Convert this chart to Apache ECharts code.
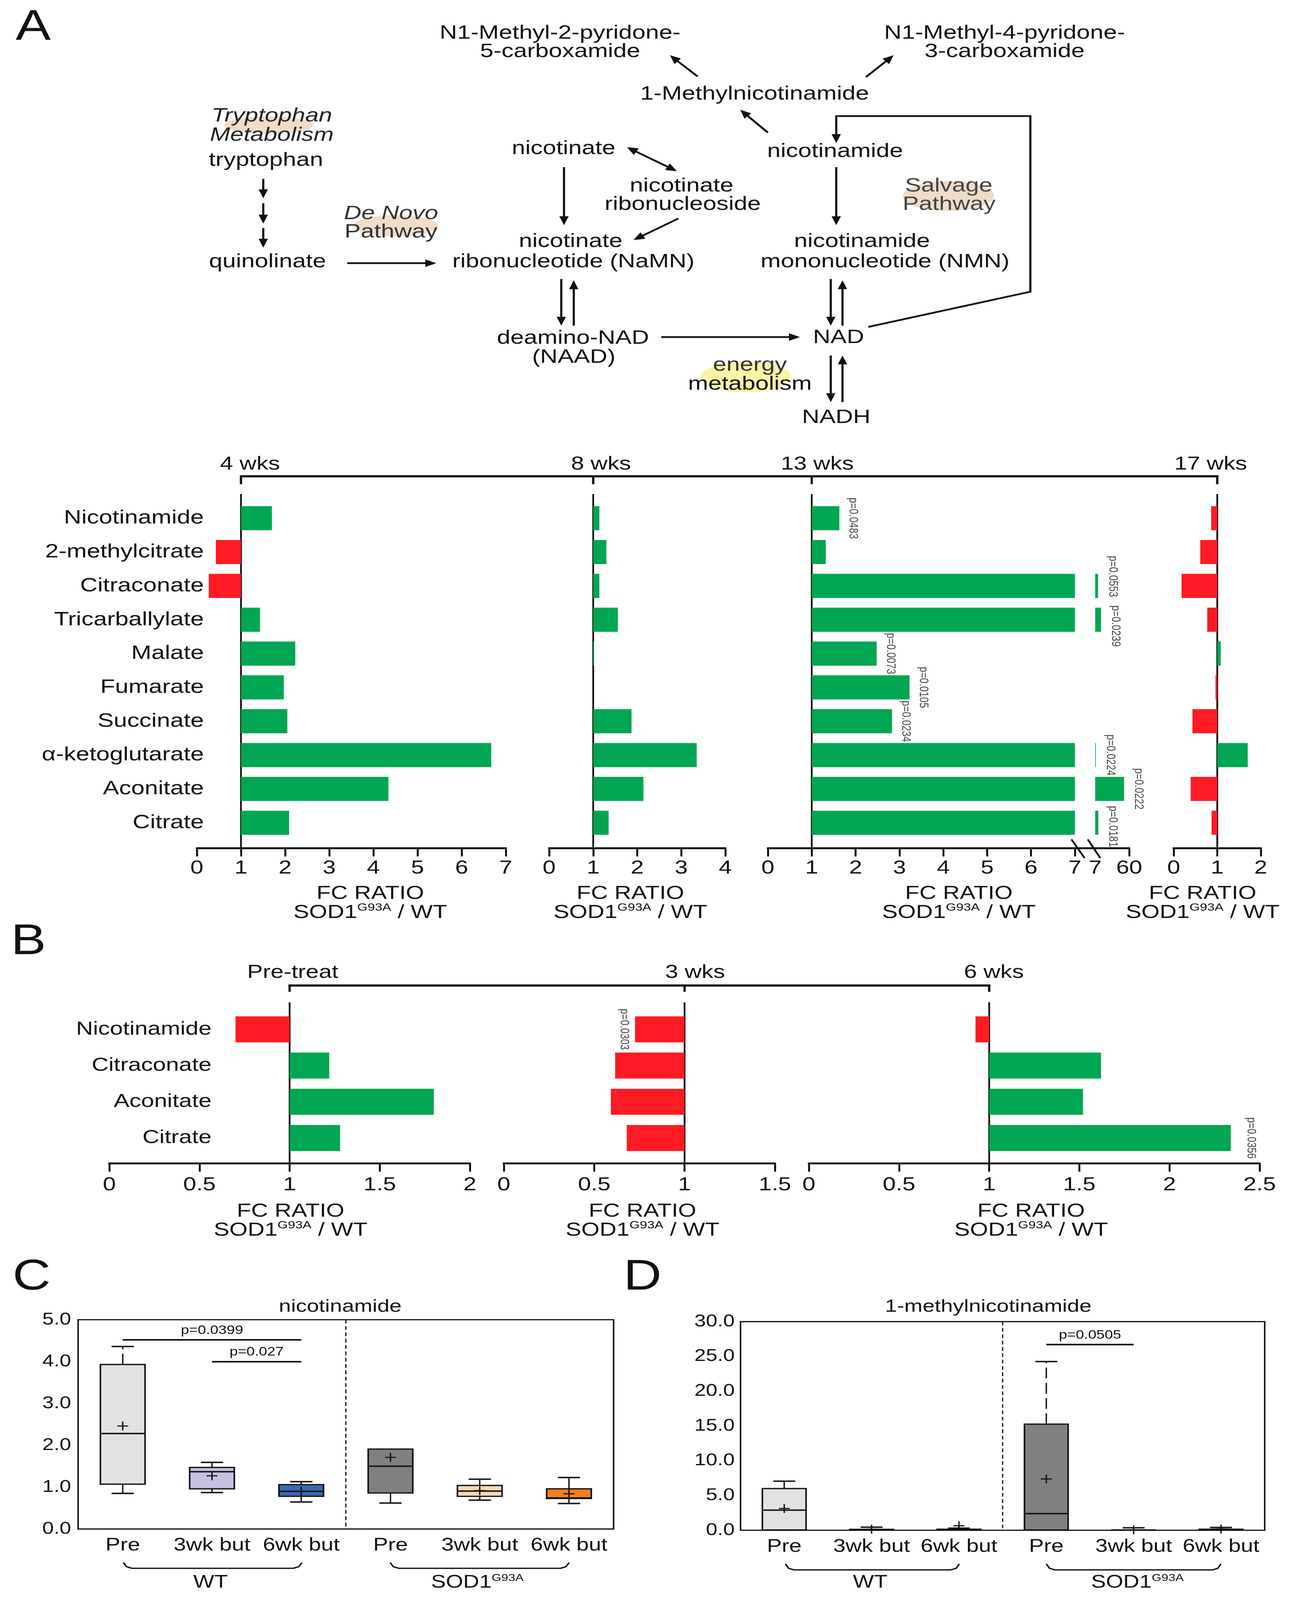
<!DOCTYPE html>
<html>
<head>
<meta charset="utf-8">
<script src="https://cdn.jsdelivr.net/npm/echarts@6/dist/echarts.min.js"></script>
<style>
html,body{margin:0;padding:0;background:#ffffff;overflow:hidden;}
#wrap{width:100vw;height:100vh;overflow:hidden;background:#ffffff;}
#c{width:3313px;height:5046px;transform-origin:0 0;}
</style>
</head>
<body>
<div id="wrap"><div id="c"></div></div>
<script>
// ================= DATA =================
const categoriesA = ['Nicotinamide','2-methylcitrate','Citraconate','Tricarballylate','Malate','Fumarate','Succinate','α-ketoglutarate','Aconitate','Citrate'];
const periodsA = ['4 wks','8 wks','13 wks','17 wks'];
const fc4wk  = [1.70, 0.43, 0.27, 1.43, 2.23, 1.97, 2.05, 6.67, 4.34, 2.09];
const fc8wk  = [1.14, 1.30, 1.14, 1.56, 1.02, 1.00, 1.87, 3.35, 2.14, 1.35];
const fc13wk = [1.63, 1.32, 11.5, 16.0, 2.48, 3.23, 2.83, 8.0, 52.0, 11.9];
const fc17wk = [0.86, 0.61, 0.18, 0.77, 1.08, 0.96, 0.43, 1.70, 0.39, 0.87];
const p13wk  = ['p=0.0483', null, 'p=0.0553', 'p=0.0239', 'p=0.0073', 'p=0.0105', 'p=0.0234', 'p=0.0224', 'p=0.0222', 'p=0.0181'];
const break13 = 7;

const categoriesB = ['Nicotinamide','Citraconate','Aconitate','Citrate'];
const periodsB = ['Pre-treat','3 wks','6 wks'];
const fcPre = [0.70, 1.22, 1.80, 1.28];
const fc3wk = [0.726, 0.616, 0.592, 0.68];
const fc6wk = [0.924, 1.62, 1.52, 2.34];
const p3wk  = ['p=0.0303', null, null, null];
const p6wk  = [null, null, null, 'p=0.0356'];

const groupsCD = ['Pre','3wk but','6wk but','Pre','3wk but','6wk but'];
const genotypes = ['WT','SOD1'];
const namMin  = [0.85, 0.87, 0.645, 0.62, 0.69, 0.61];
const namQ1   = [1.07, 0.96, 0.78, 0.86, 0.78, 0.73];
const namMed  = [2.28, 1.37, 0.90, 1.50, 0.905, 0.74];
const namQ3   = [3.93, 1.47, 1.06, 1.91, 1.04, 0.96];
const namMax  = [4.36, 1.59, 1.13, 1.91, 1.19, 1.23];
const namMean = [2.46, 1.27, 0.90, 1.71, 0.915, 0.84];
const namP    = [{from:0, to:2, y:4.52, text:'p=0.0399'}, {from:1.07, to:2, y:4.0, text:'p=0.027'}];

const mnaMin  = [0.02, 0.01, 0.01, 0.02, 0.01, 0.02];
const mnaQ1   = [0.05, 0.02, 0.03, 0.05, 0.02, 0.04];
const mnaMed  = [2.90, 0.05, 0.06, 2.39, 0.03, 0.08];
const mnaQ3   = [6.00, 0.12, 0.15, 15.26, 0.05, 0.15];
const mnaMax  = [7.05, 0.45, 0.30, 24.26, 0.35, 0.40];
const mnaMean = [3.13, 0.15, 0.64, 7.37, 0.05, 0.17];
const mnaP    = [{from:3, to:3.97, y:26.7, text:'p=0.0505'}];

// ================= STYLE =================
const GREEN = '#00a651', RED = '#fe1b23', INK = '#111111';
const FONT = '"Liberation Sans", Arial, Helvetica, sans-serif';
const boxColors = ['#e1e3e2', '#c5c1e0', '#3b69b3', '#7e817f', '#fbd8b4', '#f47f20'];
const dashedUpperC = [true, false, false, false, false, false];
const dashedUpperD = [false, false, false, true, false, false];
const pShift13 = [0, 0, -30, 20, 0, 0, 0, 0, 0, 12];
const fmt = v => String(Math.round(v * 100) / 100);

// fit the full 3313x5046 figure into the visible window
const host = document.getElementById('c');
const fitX = window.innerWidth / 3313, fitY = window.innerHeight / 5046;
if (fitX < 0.999 || fitY < 0.999) host.style.transform = 'scale(' + Math.min(fitX, 1) + ',' + Math.min(fitY, 1) + ')';

const chart = echarts.init(host, null, {renderer: 'canvas', width: 3313, height: 5046});

const rowA = {top: 1581, height: 1067, offset: 27};
const rowB = {top: 3189, height: 457, offset: 23};
const gridDefs = [
  {left: 504,  width: 791,  row: rowA},
  {left: 1406, width: 451,  row: rowA},
  {left: 1966, width: 786,  row: rowA},
  {left: 2804, width: 87,   row: rowA},
  {left: 3005, width: 223,  row: rowA},
  {left: 280,  width: 923,  row: rowB},
  {left: 1290, width: 694,  row: rowB},
  {left: 2071, width: 1154, row: rowB}
];
const axisDefs = [
  {min: -1, max: 6, interval: 1, shift: 1},
  {min: -1, max: 3, interval: 1, shift: 1},
  {min: -1, max: 6, interval: 1, shift: 1},
  {min: 0, max: 53, interval: 53, shift: break13},
  {min: -1, max: 1, interval: 1, shift: 1},
  {min: -1, max: 1, interval: 0.5, shift: 1},
  {min: -1, max: 0.5, interval: 0.5, shift: 1},
  {min: -1, max: 1.5, interval: 0.5, shift: 1}
];

const grids = [], xAxes = [], yAxes = [], series = [];

gridDefs.forEach((g, i) => {
  grids.push({left: g.left, width: g.width, top: g.row.top, height: g.row.height, containLabel: false, outerBoundsMode: 'none'});
  const a = axisDefs[i];
  const isA = i < 5;
  const xa = {
    gridIndex: i, type: 'value', min: a.min, max: a.max, interval: a.interval,
    offset: g.row.offset,
    axisLine: {show: true, onZero: false, lineStyle: {color: INK, width: 6}},
    axisTick: {show: true, inside: false, length: 26, lineStyle: {color: INK, width: 5}},
    axisLabel: {show: true, margin: isA ? 33 : 38, fontSize: 60, color: INK, fontFamily: FONT,
      formatter: v => fmt(v + a.shift)},
    splitLine: {show: false}
  };
  if (i === 3) {
    xa.axisTick.customValues = [53];
    xa.axisLabel.customValues = [0, 53];
  }
  xAxes.push(xa);
  const zeroOffset = -((0 - a.min) / (a.max - a.min)) * g.width;
  yAxes.push({
    gridIndex: i, type: 'category', inverse: true,
    data: isA ? categoriesA : categoriesB,
    offset: zeroOffset,
    axisLine: {show: false, onZero: false},
    axisTick: {show: false},
    axisLabel: {
      show: i === 0 || i === 5, interval: 0,
      margin: i === 0 ? 95 : 200,
      fontSize: isA ? 62 : 60, color: INK, fontFamily: FONT,
      padding: isA ? [0, 0, 30, 0] : 0
    },
    splitLine: {show: false}
  });
});

function barSeries(gi, values, width) {
  return {
    type: 'bar', xAxisIndex: gi, yAxisIndex: gi, data: values, barWidth: width,
    silent: true, animation: false,
    itemStyle: {color: p => (p.value >= 0 ? GREEN : RED)}
  };
}
function pSeries(gi, items, pos, dist) {
  return {
    type: 'scatter', xAxisIndex: gi, yAxisIndex: gi, data: items, symbolSize: 2,
    silent: true, animation: false, itemStyle: {color: 'rgba(0,0,0,0)'},
    label: {show: true, position: pos, distance: dist, rotate: -90, align: 'center', verticalAlign: 'middle',
      fontSize: 31, color: INK, fontFamily: FONT, formatter: p => p.value[2]}
  };
}

series.push(barSeries(0, fc4wk.map(v => v - 1), 76));
series.push(barSeries(1, fc8wk.map(v => v - 1), 76));
series.push(barSeries(2, fc13wk.map(v => Math.min(v, break13) - 1), 76));
series.push(barSeries(3, fc13wk.map(v => (v > break13 ? v - break13 : '-')), 76));
series.push(barSeries(4, fc17wk.map(v => v - 1), 76));
const p13low = [], p13high = [];
p13wk.forEach((p, i) => {
  if (!p) return;
  const high = fc13wk[i] > break13;
  // label offset is applied in the rotated frame: local x maps to screen y
  const item = {value: high ? [fc13wk[i] - break13, i, p] : [fc13wk[i] - 1, i, p],
    label: {offset: [pShift13[i], 0]}};
  (high ? p13high : p13low).push(item);
});
series.push(pSeries(2, p13low, 'right', 34));
series.push(pSeries(3, p13high, 'right', 36));

series.push(barSeries(5, fcPre.map(v => v - 1), 82));
series.push(barSeries(6, fc3wk.map(v => v - 1), 82));
series.push(barSeries(7, fc6wk.map(v => v - 1), 82));
series.push(pSeries(6, p3wk.map((p, i) => (p ? {value: [fc3wk[i] - 1, i, p]} : null)).filter(Boolean), 'left', 27));
series.push(pSeries(7, p6wk.map((p, i) => (p ? {value: [fc6wk[i] - 1, i, p]} : null)).filter(Boolean), 'right', 50));

grids.push({left: 200, width: 1371, top: 4162, height: 660, show: true, borderColor: '#1a1a1a', borderWidth: 4, backgroundColor: 'transparent', containLabel: false, outerBoundsMode: 'none'});
grids.push({left: 1896, width: 1342, top: 4168, height: 658, show: true, borderColor: '#1a1a1a', borderWidth: 4, backgroundColor: 'transparent', containLabel: false, outerBoundsMode: 'none'});
[8, 9].forEach((gi, k) => {
  xAxes.push({
    gridIndex: gi, type: 'category', data: groupsCD,
    axisLine: {show: false}, axisTick: {show: false},
    axisLabel: {show: true, interval: 0, margin: 24, fontSize: 57, color: INK, fontFamily: FONT},
    splitLine: {show: false}
  });
  yAxes.push({
    gridIndex: gi, type: 'value', min: 0, max: k === 0 ? 5 : 30, interval: k === 0 ? 1 : 5,
    axisLine: {show: false}, axisTick: {show: false},
    axisLabel: {show: true, margin: k === 0 ? 18 : 15, fontSize: 53, color: INK, fontFamily: FONT, formatter: v => v.toFixed(1)},
    splitLine: {show: false}
  });
});

function boxSeries(gi, mins, q1s, meds, q3s, maxs, means, dashed, pLines) {
  const data = mins.map((m, i) => [i, m, q1s[i], meds[i], q3s[i], maxs[i], means[i]]);
  const firstSod = groupsCD.length / 2;
  return {
    type: 'custom', xAxisIndex: gi, yAxisIndex: gi, data: data, silent: true, animation: false, clip: false,
    encode: {x: 0, y: [1, 2, 3, 4, 5, 6]},
    renderItem: function (params, api) {
      const i = api.value(0);
      const mn = api.value(1), q1 = api.value(2), md = api.value(3), q3 = api.value(4), mx = api.value(5), mean = api.value(6);
      const band = api.size([1, 0])[0];
      const bw = band * 0.5;
      const cx = api.coord([i, 0])[0];
      const Y = v => api.coord([i, v])[1];
      const ln = (x1, y1, x2, y2, w, dash) => ({type: 'line', shape: {x1, y1, x2, y2}, style: {stroke: INK, lineWidth: w, lineDash: dash || null}});
      const ch = [];
      if (i === firstSod) {
        const cs = params.coordSys;
        ch.push(ln(cx - band / 2, cs.y, cx - band / 2, cs.y + cs.height, 3, [12, 8]));
      }
      if (mx > q3) {
        ch.push(ln(cx, Y(q3), cx, Y(mx), 3.5, dashed[i] ? [34, 14] : null));
        ch.push(ln(cx - bw / 4, Y(mx), cx + bw / 4, Y(mx), 4.5));
      }
      if (mn < q1) {
        ch.push(ln(cx, Y(q1), cx, Y(mn), 3.5));
        ch.push(ln(cx - bw / 4, Y(mn), cx + bw / 4, Y(mn), 4.5));
      }
      ch.push({type: 'rect', shape: {x: cx - bw / 2, y: Y(q3), width: bw, height: Math.max(Y(q1) - Y(q3), 1)},
        style: {fill: boxColors[i], stroke: INK, lineWidth: 4}});
      ch.push(ln(cx - bw / 2, Y(md), cx + bw / 2, Y(md), 4.5));
      const m = Y(mean);
      ch.push(ln(cx - 14, m, cx + 14, m, 3.5));
      ch.push(ln(cx, m - 14, cx, m + 14, 3.5));
      return {type: 'group', children: ch};
    },
    markLine: {
      silent: true, animation: false, symbol: ['none', 'none'],
      lineStyle: {color: INK, width: 5, type: 'solid'},
      label: {show: true, position: 'insideMiddleTop', distance: 10, formatter: '{b}', fontSize: 38, color: INK, fontFamily: FONT},
      data: pLines.map(p => [{name: p.text, coord: [p.from, p.y]}, {coord: [p.to, p.y]}])
    }
  };
}
series.push(boxSeries(8, namMin, namQ1, namMed, namQ3, namMax, namMean, dashedUpperC, namP));
series.push(boxSeries(9, mnaMin, mnaQ1, mnaMed, mnaQ3, mnaMax, mnaMean, dashedUpperD, mnaP));

chart.setOption({
  animation: false,
  backgroundColor: '#ffffff',
  textStyle: {fontFamily: FONT, color: INK},
  grid: grids, xAxis: xAxes, yAxis: yAxes, series: series
});

// ================= DECORATION =================
const G = [];
const T = (x, y, text, size, extra) => G.push({type: 'text', x: x, y: y, silent: true,
  style: Object.assign({text: text, fontSize: size, fontFamily: FONT, fill: INK, align: 'center', verticalAlign: 'middle'}, extra || {})});
const L = (x1, y1, x2, y2, w) => G.push({type: 'line', silent: true, shape: {x1, y1, x2, y2}, style: {stroke: INK, lineWidth: w || 5}});
const AH = 28, AW = 12;
function head(tx, ty, c, s) {
  const bx = tx - AH * c, by = ty - AH * s;
  G.push({type: 'polygon', silent: true, shape: {points: [[tx, ty], [bx - AW * s, by + AW * c], [bx + AW * s, by - AW * c]]}, style: {fill: INK}});
}
function arrow(x1, y1, x2, y2, both) {
  const a = Math.atan2(y2 - y1, x2 - x1), c = Math.cos(a), s = Math.sin(a);
  let sx = x1, sy = y1;
  head(x2, y2, c, s);
  if (both) { head(x1, y1, -c, -s); sx = x1 + (AH - 2) * c; sy = y1 + (AH - 2) * s; }
  L(sx, sy, x2 - (AH - 2) * c, y2 - (AH - 2) * s, 5.5);
}
const ell = (cx, cy, rx, ry, color) => G.push({type: 'ellipse', silent: true, z: -1, shape: {cx, cy, rx, ry}, style: {fill: color}});

T(85, 88, 'A', 135); T(73, 2972, 'B', 135); T(81, 4030, 'C', 135); T(1645, 4030, 'D', 135);

ell(688, 395, 114, 28, '#efdcc9');
ell(1013, 712, 108, 33, '#efdcc9');
ell(2428, 618, 117, 47, '#efdcc9');
ell(1910, 1189, 116, 48, '#fbf3a6');

const PF = 62;
T(1434, 105, 'N1-Methyl-2-pyridone-', PF); T(1434, 163, '5-carboxamide', PF);
T(2572, 105, 'N1-Methyl-4-pyridone-', PF); T(2572, 163, '3-carboxamide', PF);
T(1932, 297, '1-Methylnicotinamide', PF);
T(696, 366, 'Tryptophan', PF, {fontStyle: 'italic', fill: '#222'}); T(696, 427, 'Metabolism', PF, {fontStyle: 'italic', fill: '#222'});
T(681, 506, 'tryptophan', PF);
T(685, 826, 'quinolinate', PF);
T(1001, 674, 'De Novo', PF, {fontStyle: 'italic', fill: '#333'}); T(1001, 732, 'Pathway', PF, {fill: '#333'});
T(1443, 469, 'nicotinate', PF);
T(1745, 587, 'nicotinate', PF); T(1748, 645, 'ribonucleoside', PF);
T(1461, 762, 'nicotinate', PF); T(1468, 826, 'ribonucleotide (NaMN)', PF);
T(2138, 478, 'nicotinamide', PF);
T(2429, 587, 'Salvage', PF, {fill: '#444'}); T(2430, 645, 'Pathway', PF, {fill: '#444'});
T(2207, 762, 'nicotinamide', PF); T(2266, 826, 'mononucleotide (NMN)', PF);
T(1467, 1067, 'deamino-NAD', PF); T(1469, 1127, '(NAAD)', PF);
T(2147, 1065, 'NAD', PF);
T(1920, 1152, 'energy', PF, {fill: '#333'}); T(1920, 1212, 'metabolism', PF);
T(2141, 1317, 'NADH', PF);

arrow(1786, 241, 1715, 174);
arrow(2217, 243, 2288, 174);
arrow(1966, 418, 1895, 346);
arrow(1605, 464, 1733, 540, true);
arrow(1737, 689, 1622, 757);
arrow(1444, 527, 1444, 710);
arrow(2141, 527, 2141, 710);
arrow(674, 564, 674, 625); arrow(674, 641, 674, 705); arrow(674, 719, 674, 781);
arrow(889, 830, 1117, 830);
arrow(1437, 880, 1437, 1027); arrow(1469, 1027, 1469, 884);
arrow(2127, 880, 2127, 1027); arrow(2157, 1027, 2157, 884);
arrow(1693, 1063, 2048, 1063);
arrow(2127, 1121, 2127, 1268); arrow(2157, 1268, 2157, 1121);
G.push({type: 'polyline', silent: true, shape: {points: [[2223, 1031], [2638, 920], [2638, 366], [2141, 366], [2141, 425]]}, style: {stroke: INK, lineWidth: 5.5, fill: null}});
head(2141, 451, 0, 1);

const supRich = {a: {fontSize: 60, lineHeight: 64, fontFamily: FONT, fill: INK}, s: {fontSize: 34, lineHeight: 34, verticalAlign: 'top', fontFamily: FONT, fill: INK}};
function fcTitle(x, y) {
  T(x, y, 'FC RATIO', 60);
  G.push({type: 'text', x: x, y: y + 60, silent: true, style: {text: '{a|SOD1}{s|G93A}{a| / WT}', rich: supRich, align: 'center', verticalAlign: 'middle', fontFamily: FONT, fill: INK}});
}
[948, 1614, 2455, 3079].forEach(x => fcTitle(x, 2818));
[744, 1645, 2640].forEach(x => fcTitle(x, 3820));

L(2752, 2675, 2804, 2675, 6);
L(2743, 2647, 2777, 2706, 5);
L(2785, 2647, 2817, 2706, 5);

T(871, 4122, 'nicotinamide', 56);
T(2530, 4122, '1-methylnicotinamide', 56);
function brace(x1, x2, y1, y2) {
  G.push({type: 'polyline', silent: true, shape: {points: [[x1, y1], [x1 + 8, y2 - 5], [x1 + 22, y2], [x2 - 22, y2], [x2 - 8, y2 - 5], [x2, y1]]}, style: {stroke: INK, lineWidth: 4, fill: null}});
}
const supRich2 = {a: {fontSize: 57, lineHeight: 60, fontFamily: FONT, fill: INK}, s: {fontSize: 32, lineHeight: 32, verticalAlign: 'top', fontFamily: FONT, fill: INK}};
function genoLabels(xw, xs, y) {
  T(xw, y, genotypes[0], 57);
  G.push({type: 'text', x: xs, y: y, silent: true, style: {text: '{a|' + genotypes[1] + '}{s|G93A}', rich: supRich2, align: 'center', verticalAlign: 'middle', fontFamily: FONT, fill: INK}});
}
brace(316, 773, 4928, 4946); brace(999, 1457, 4928, 4946);
genoLabels(539, 1222, 4991);
brace(2011, 2456, 4932, 4951); brace(2679, 3126, 4932, 4951);
genoLabels(2228, 2912, 4991);

function px(gi) { return chart.convertToPixel({xAxisIndex: gi}, 0); }
function bracketRow(gis, labels, offs, yb, ytick, ylab, yTop, yBot) {
  const xs = gis.map(px);
  L(xs[0] - 3, yb, xs[xs.length - 1] + 3, yb, 7);
  xs.forEach((x, k) => {
    L(x, yb, x, ytick, 6);
    L(x, yTop, x, yBot, 4.5);
    T(x + offs[k], ylab, labels[k], 60);
  });
}
bracketRow([0, 1, 2, 4], periodsA, [23, 20, 14, -17], 1502, 1527, 1464, 1558, 2675);
bracketRow([5, 6, 7], periodsB, [8, 27, 12], 3108, 3128, 3067, 3161, 3669);

chart.setOption({graphic: {elements: G}});
</script>
</body>
</html>
